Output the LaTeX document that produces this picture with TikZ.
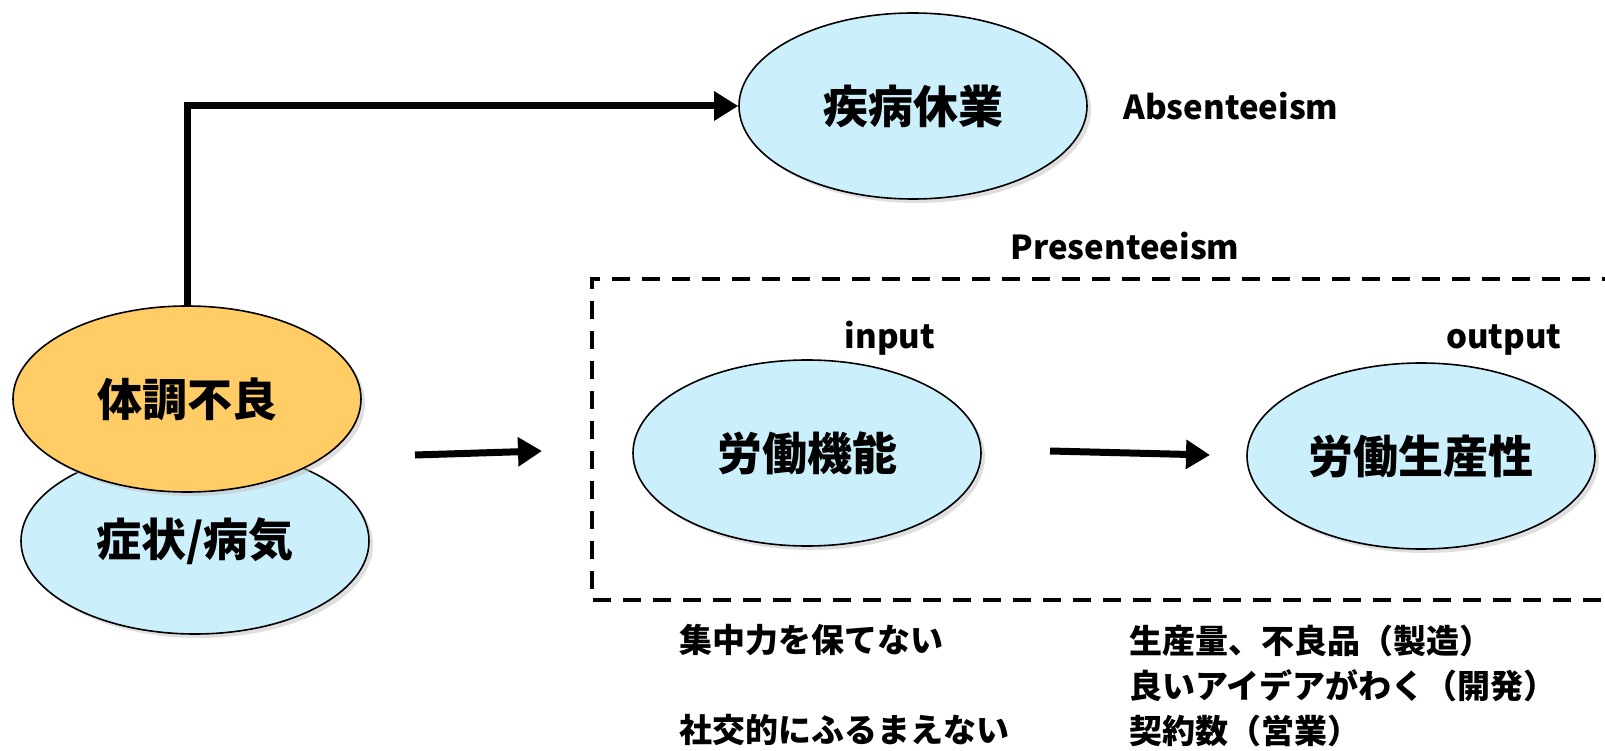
\documentclass[tikz,border=0pt]{standalone}
\usepackage{fontspec}
\setmainfont{Noto Sans CJK JP}
\usetikzlibrary{shapes.geometric, arrows.meta, shadows, positioning}

\tikzset{
  blob/.style={ellipse, draw=black, line width=1.6pt, fill=cyan!20,
    minimum width=348pt, minimum height=186pt, inner sep=0pt,
    drop shadow={shadow xshift=4pt, shadow yshift=-4pt, fill=black!25},
    font=\fontsize{45}{50}\selectfont\bfseries},
  lbl/.style={font=\fontsize{33}{38}\selectfont\bfseries},
  note/.style={font=\fontsize{33}{45}\selectfont\bfseries, anchor=west, align=left},
  fat/.style={line width=7pt, -{Triangle[length=24pt,width=28pt]}}
}

\begin{document}
\begin{tikzpicture}[x=1pt, y=-1pt]
  % left pair
  \node[blob] (sick) at (195,541) {症状/病気};
  \node[blob, fill={rgb,255:red,255;green,204;blue,102}] (ill) at (187,399) {体調不良};
  % absenteeism
  \node[blob] (absent) at (913,106) {疾病休業};
  \node[lbl] (abs) at (1231,106) {Absenteeism};
  \draw[fat] (ill.north) |- (absent.west);
  % presenteeism box
  \node[lbl] (pres) at (1125,246) {Presenteeism};
  \draw[dashed, line width=3.5pt, dash pattern=on 18pt off 12pt] (1620,279) -- (592,279) -- (592,600) -- (1620,600);
  \node[lbl] (in) at (890,338) {input};
  \node[lbl] (out) at (1504,340) {output};
  \node[blob] (func) at (807,453) {労働機能};
  \node[blob] (prod) at (1421,456) {労働生産性};
  \coordinate (a1) at (415,455);
  \coordinate (a2) at (542,451);
  \coordinate (b1) at (1050,451);
  \coordinate (b2) at (1210,455);
  \draw[fat] (a1) -- (a2);
  \draw[fat] (b1) -- (b2);
  % notes
  \node[note] (n1) at (676,640) {集中力を保てない};
  \node[note] (n2) at (676,730) {社交的にふるまえない};
  \node[note] (n3) at (1126,686) {生産量、不良品（製造）\\良いアイデアがわく（開発）\\契約数（営業）};
  \pgfresetboundingbox
  \useasboundingbox (0,0) rectangle (1605,751);
\end{tikzpicture}
\end{document}
